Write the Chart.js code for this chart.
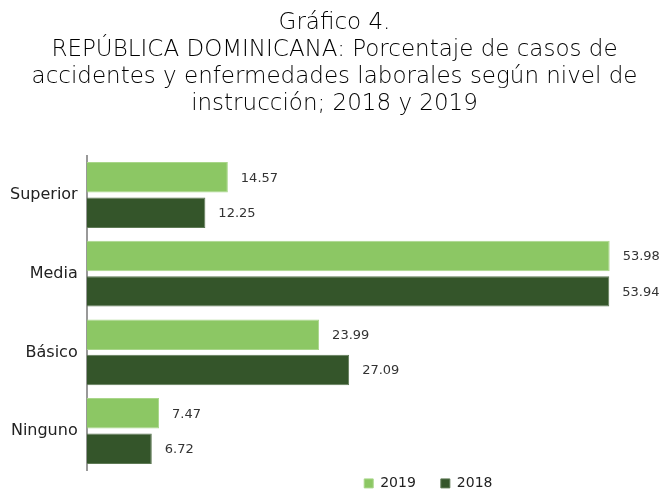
<!DOCTYPE html>
<html>
<head>
<meta charset="utf-8">
<script src="https://cdn.jsdelivr.net/npm/chart.js@4.4.1/dist/chart.umd.min.js"></script>
<style>
  html, body { margin: 0; padding: 0; background: #fff; }
  #wrap { width: 671px; height: 489px; }
</style>
</head>
<body>
<div id="wrap"><canvas id="barChart"></canvas></div>
<script>
// datos
var categorias = ['Superior', 'Media', 'Básico', 'Ninguno'];
var valores2019 = [14.57, 53.98, 23.99, 7.47];
var valores2018 = [12.25, 53.94, 27.09, 6.72];
var titulo = [
    'Gráfico 4.',
    'REPÚBLICA DOMINICANA: Porcentaje de casos de',
    'accidentes y enfermedades laborales según nivel de',
    'instrucción; 2018 y 2019'
];

var fuente = "'DejaVu Sans', sans-serif";

// etiquetas de valor al final de cada barra
var etiquetasValor = {
    id: 'etiquetasValor',
    afterDatasetsDraw: function (chart) {
        var ctx = chart.ctx;
        ctx.save();
        ctx.font = '13px ' + fuente;
        ctx.fillStyle = '#333';
        ctx.textBaseline = 'middle';
        ctx.textAlign = 'left';
        chart.data.datasets.forEach(function (ds, i) {
            chart.getDatasetMeta(i).data.forEach(function (bar, j) {
                ctx.fillText(ds.data[j].toFixed(2), bar.x + 13, bar.y + 1);
            });
        });
        ctx.restore();
    }
};

// mover la leyenda a la derecha y un poco arriba
var moverLeyenda = {
    id: 'moverLeyenda',
    afterUpdate: function (chart) {
        var lg = chart.legend;
        lg.left += 51;
        lg.right += 51;
        lg.top -= 19;
        lg.bottom -= 19;
        lg.adjustHitBoxes();
    }
};

const ctx = document.getElementById('barChart');
var myChart = new Chart(ctx, {
    type: 'bar',
    data: {
        labels: categorias,
        datasets: [{
            label: '2019',
            data: valores2019,
            backgroundColor: '#8CC764',
            borderColor: '#A9D68A',
            borderWidth: 1,
            categoryPercentage: 0.9,
            barPercentage: 0.86
        }, {
            label: '2018',
            data: valores2018,
            backgroundColor: '#34552A',
            borderColor: '#5E7A55',
            borderWidth: 1,
            categoryPercentage: 0.9,
            barPercentage: 0.86
        }]
    },
    options: {
        indexAxis: 'y',
        responsive: true,
        maintainAspectRatio: false,
        animation: false,
        layout: { padding: { left: 1, right: 3, top: 4, bottom: -44 } },
        scales: {
            x: {
                min: 0,
                max: 60,
                display: false,
                grid: { display: false }
            },
            y: {
                grid: { display: false, drawTicks: false },
                border: { display: true, color: '#999', width: 2 },
                ticks: {
                    color: '#222',
                    padding: 9,
                    font: { family: fuente, size: 16 }
                }
            }
        },
        plugins: {
            title: {
                display: true,
                text: titulo,
                color: '#000',
                font: { family: fuente, size: 23, weight: 200, lineHeight: 1.17 },
                padding: { top: 6, bottom: 38 }
            },
            legend: {
                position: 'bottom',
                fullSize: false,
                labels: {
                    boxWidth: 9,
                    boxHeight: 9,
                    padding: 25,
                    color: '#222',
                    font: { family: fuente, size: 14 }
                }
            },
            tooltip: { enabled: false }
        }
    },
    plugins: [etiquetasValor, moverLeyenda]
});
</script>
</body>
</html>
